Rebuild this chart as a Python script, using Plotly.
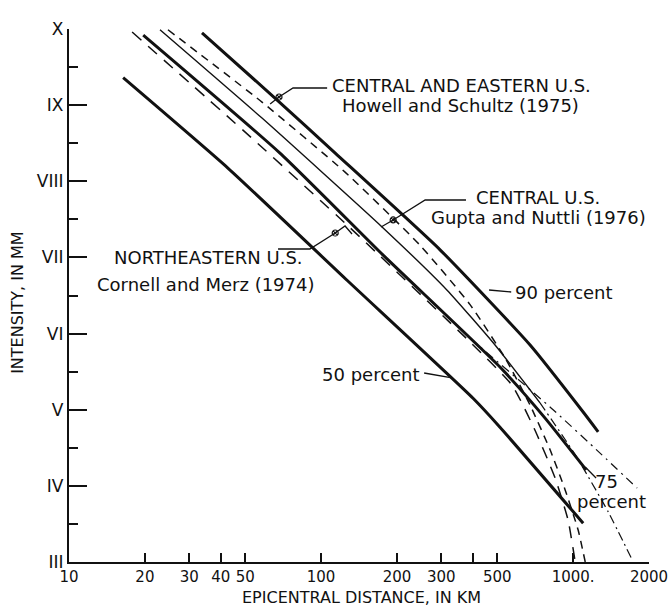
import math
import plotly.graph_objects as go

# ---------------- data (epicentral distance km, intensity MM) ----------------
p50_km = [16.4, 42.8, 126.8, 400.9, 512.6, 1096]
p50_i = [9.36, 8.17, 6.70, 5.15, 4.77, 3.51]

p75_km = [19.7, 68.7, 176.3, 512.6, 774, 1127]
p75_i = [9.92, 8.37, 7.03, 5.56, 4.89, 4.21]

p90_km = [33.7, 66.8, 113.8, 296.5, 675, 1096, 1257]
p90_i = [9.95, 9.07, 8.37, 7.10, 5.85, 4.97, 4.71]

gupta_km = [22.96, 58.3, 174.6, 316.2, 490, 739, 1019, 1377, 1714]
gupta_i = [9.99, 8.83, 7.40, 6.57, 5.85, 5.09, 4.41, 3.66, 3.03]
gupta_solid_n = 6

howell_km = [24.7, 58.3, 124.5, 247, 390, 537, 675, 811, 929, 1047, 1117]
howell_i = [9.99, 9.04, 8.12, 7.16, 6.38, 5.68, 5.06, 4.47, 3.95, 3.42, 3.0]

cornell_km = [17.8, 52.2, 130.3, 390, 573, 706, 849, 955, 1019]
cornell_i = [9.96, 8.59, 7.39, 5.89, 5.32, 4.73, 4.10, 3.55, 3.0]

ext75_km = [390, 833, 1279, 1795]
ext75_i = [5.94, 5.00, 4.43, 3.97]

x_tickvals = [10, 20, 30, 40, 50, 100, 200, 300, 400, 500, 1000, 2000]
x_ticktext = ["10", "20", "30", "40", "50", "100", "200", "300", "", "500", "1000.", "2000"]
y_tickvals = [3, 4, 5, 6, 7, 8, 9, 10]
y_ticktext = ["III", "IV", "V", "VI", "VII", "VIII", "IX", "X"]

# leader lines (km, intensity)
lead_howell_km = [105.7, 77.4, 68.1, 62.8]
lead_howell_i = [9.225, 9.225, 9.107, 9.015]
lead_gupta_km = [375.8, 258.8, 193.2, 173.0]
lead_gupta_i = [7.754, 7.754, 7.492, 7.400]
lead_cornell_km = [67.5, 90.3, 113.8, 124.5, 132.7]
lead_cornell_i = [7.111, 7.111, 7.321, 7.413, 7.308]
lead_50_km = [256.4, 331]
lead_50_i = [5.482, 5.417]
lead_90_km = [464, 568]
lead_90_i = [6.572, 6.546]
lead_75_km = [1233, 1117]
lead_75_i = [4.103, 4.248]
marker_km = [68.1, 193.2, 113.8]
marker_i = [9.107, 7.492, 7.321]

# labels: (text, km, intensity, anchor)
labels = [
    ("CENTRAL AND EASTERN U.S.", 359.7, 9.252, "center"),
    ("Howell and Schultz (1975)", 356.5, 8.989, "center"),
    ("CENTRAL U.S.", 726, 7.781, "center"),
    ("Gupta and Nuttli (1976)", 726, 7.518, "center"),
    ("NORTHEASTERN U.S.", 35.6, 6.993, "center"),
    ("Cornell and Merz (1974)", 35.0, 6.651, "center"),
    ("50 percent", 157.8, 5.469, "center"),
    ("90 percent", 578, 6.546, "left"),
    ("75", 1352, 4.051, "center"),
    ("percent", 1416, 3.801, "center"),
]

INK = "#111111"
FONT = "DejaVu Sans"

fig = go.Figure()


def curve(xs, ys, width, dash="solid"):
    fig.add_trace(go.Scatter(
        x=xs, y=ys, mode="lines",
        line=dict(color=INK, width=width, dash=dash, shape="spline", smoothing=0.5),
        hoverinfo="skip", showlegend=False))


curve(p50_km, p50_i, 3)
curve(p75_km, p75_i, 3)
curve(p90_km, p90_i, 3)
curve(gupta_km[:gupta_solid_n], gupta_i[:gupta_solid_n], 1.4)
curve(gupta_km[gupta_solid_n - 1:], gupta_i[gupta_solid_n - 1:], 1.2, "9px,4px,2px,4px")
curve(howell_km, howell_i, 1.5, "8px,6px")
curve(cornell_km, cornell_i, 1.5, "12px,9px")
curve(ext75_km, ext75_i, 1.2, "9px,5px,2px,5px")

for xs, ys in [(lead_howell_km, lead_howell_i), (lead_gupta_km, lead_gupta_i),
               (lead_cornell_km, lead_cornell_i), (lead_50_km, lead_50_i),
               (lead_90_km, lead_90_i), (lead_75_km, lead_75_i)]:
    fig.add_trace(go.Scatter(x=xs, y=ys, mode="lines",
                             line=dict(color=INK, width=1.3),
                             hoverinfo="skip", showlegend=False))

fig.add_trace(go.Scatter(x=marker_km, y=marker_i, mode="markers",
                         marker=dict(symbol="circle-x-open", size=6, color=INK,
                                     line=dict(width=1.2, color=INK)),
                         hoverinfo="skip", showlegend=False))

for text, km, inten, anchor in labels:
    fig.add_annotation(x=math.log10(km), y=inten, xref="x", yref="y",
                       text=text, showarrow=False, xanchor=anchor, yanchor="middle",
                       font=dict(family=FONT, size=18, color=INK))

fig.add_annotation(x=0.505, y=-0.0675, xref="paper", yref="paper",
                   text="EPICENTRAL DISTANCE, IN KM", showarrow=False,
                   xanchor="center", yanchor="middle",
                   font=dict(family=FONT, size=16, color=INK))
fig.add_annotation(x=-0.088, y=0.488, xref="paper", yref="paper",
                   text="INTENSITY, IN MM", showarrow=False, textangle=-90,
                   xanchor="center", yanchor="middle",
                   font=dict(family=FONT, size=16, color=INK))

fig.update_layout(
    width=669, height=610,
    margin=dict(l=69, r=20, t=29, b=48, autoexpand=False),
    paper_bgcolor="white", plot_bgcolor="white",
    showlegend=False,
    xaxis=dict(type="log", range=[1, math.log10(2000) + 1e-6], automargin=False,
               tickvals=x_tickvals, ticktext=x_ticktext, ticklabeloverflow="allow",
               ticks="inside", ticklen=9, tickwidth=1.5, tickcolor=INK,
               showline=True, linewidth=2.2, linecolor=INK,
               showgrid=False, zeroline=False,
               tickfont=dict(family=FONT, size=15, color=INK)),
    yaxis=dict(range=[3, 10], automargin=False,
               tickvals=y_tickvals, ticktext=y_ticktext,
               ticks="inside", ticklen=18, tickwidth=2, tickcolor=INK,
               minor=dict(ticks="inside", ticklen=9, tickwidth=2, tickcolor=INK,
                          tickvals=[v + 0.5 for v in y_tickvals[:-1]]),
               showline=True, linewidth=2.2, linecolor=INK,
               showgrid=False, zeroline=False,
               tickfont=dict(family=FONT, size=17, color=INK)),
)

fig.write_html("out.html", config={"displayModeBar": False},
               post_script="document.body.style.margin='0';document.body.style.overflow='hidden';")
